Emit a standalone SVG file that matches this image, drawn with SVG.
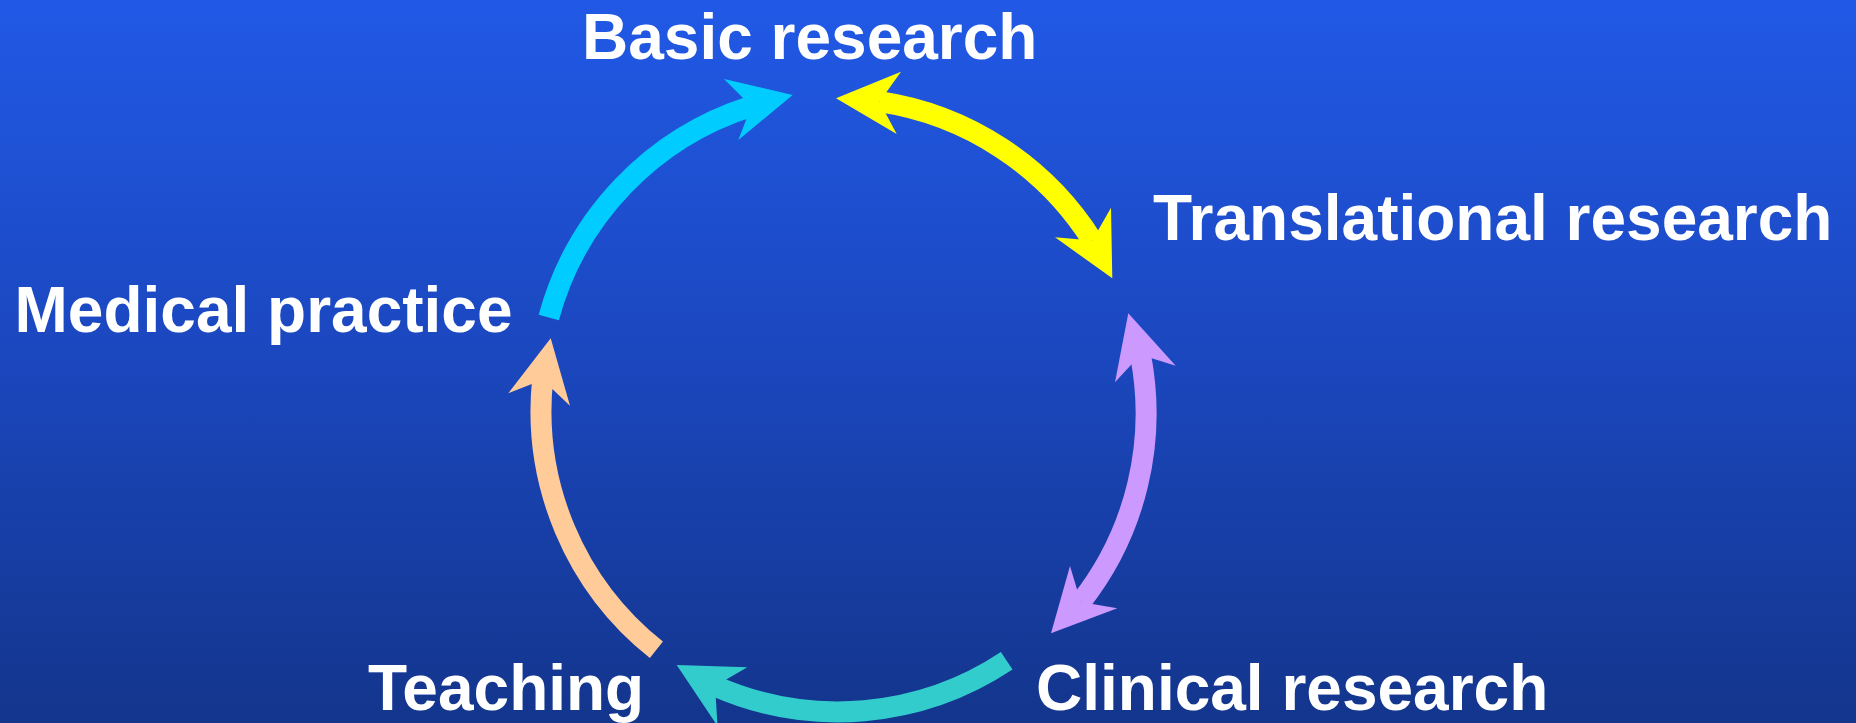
<svg xmlns="http://www.w3.org/2000/svg" width="1856" height="723" viewBox="0 0 1856 723">
  <defs>
    <linearGradient id="bg" x1="0" y1="0" x2="0" y2="1">
      <stop offset="0" stop-color="#2159E6"/>
      <stop offset="0.5" stop-color="#1B47BE"/>
      <stop offset="1" stop-color="#13358C"/>
    </linearGradient>
  </defs>
  <style>
    .lbl { font-family: "Liberation Sans", Arial, sans-serif; font-weight: bold; font-size: 64px; fill: #FFFFFF; }
    .shaft { fill: none; stroke-width: 21; stroke-linecap: butt; }
    .blue { stroke: #00CCFF; } .blue-f { fill: #00CCFF; }
    .yellow { stroke: #FFFF00; } .yellow-f { fill: #FFFF00; }
    .purple { stroke: #CC99FF; } .purple-f { fill: #CC99FF; }
    .teal { stroke: #33CCCC; } .teal-f { fill: #33CCCC; }
    .peach { stroke: #FFCC99; } .peach-f { fill: #FFCC99; }
  </style>
  <rect x="0" y="0" width="1856" height="723" fill="url(#bg)"/>

  <g id="connectors">
    <g id="arrow-practice-basic">
      <path class="shaft blue" d="M548.8,317.5 A305,305 0 0 1 751.3,106.3"/>
      <polygon class="blue-f" points="792.7,95 724,79 751.3,106.3 738.3,140"/>
    </g>
    <g id="arrow-basic-translational">
      <path class="shaft yellow" d="M879.5,101.7 A305,305 0 0 1 1092.3,240.5"/>
      <polygon class="yellow-f" points="836,98.3 901,71.7 879.5,101.7 896.7,134"/>
      <polygon class="yellow-f" points="1112.3,278.3 1111,207.7 1092.3,240.5 1055,237.3"/>
    </g>
    <g id="arrow-translational-clinical">
      <path class="shaft purple" d="M1140.4,354.8 A305,305 0 0 1 1080.8,602"/>
      <polygon class="purple-f" points="1128.3,313.3 1175.7,365.7 1140.4,354.8 1115,382.3"/>
      <polygon class="purple-f" points="1051,633.3 1070,566 1080.8,602 1117.3,608.3"/>
    </g>
    <g id="arrow-clinical-teaching">
      <path class="shaft teal" d="M1006.7,660.8 A305,305 0 0 1 715.1,686.1"/>
      <polygon class="teal-f" points="676.7,665 747.3,667.3 715.1,686.1 717.5,726"/>
    </g>
    <g id="arrow-teaching-practice">
      <path class="shaft peach" d="M656.4,649.8 A305,305 0 0 1 542.6,379.7"/>
      <polygon class="peach-f" points="550.7,338.3 570,405.7 542.6,379.7 508.3,393.3"/>
    </g>
  </g>

  <g id="node-basic-research">
    <text class="lbl" x="582" y="59">Basic research</text>
  </g>
  <g id="node-translational-research">
    <text class="lbl" x="1153" y="240">Translational research</text>
  </g>
  <g id="node-clinical-research">
    <text class="lbl" x="1036" y="710">Clinical research</text>
  </g>
  <g id="node-teaching">
    <text class="lbl" x="368" y="710">Teaching</text>
  </g>
  <g id="node-medical-practice">
    <text class="lbl" x="14.5" y="331.5">Medical practice</text>
  </g>
</svg>
